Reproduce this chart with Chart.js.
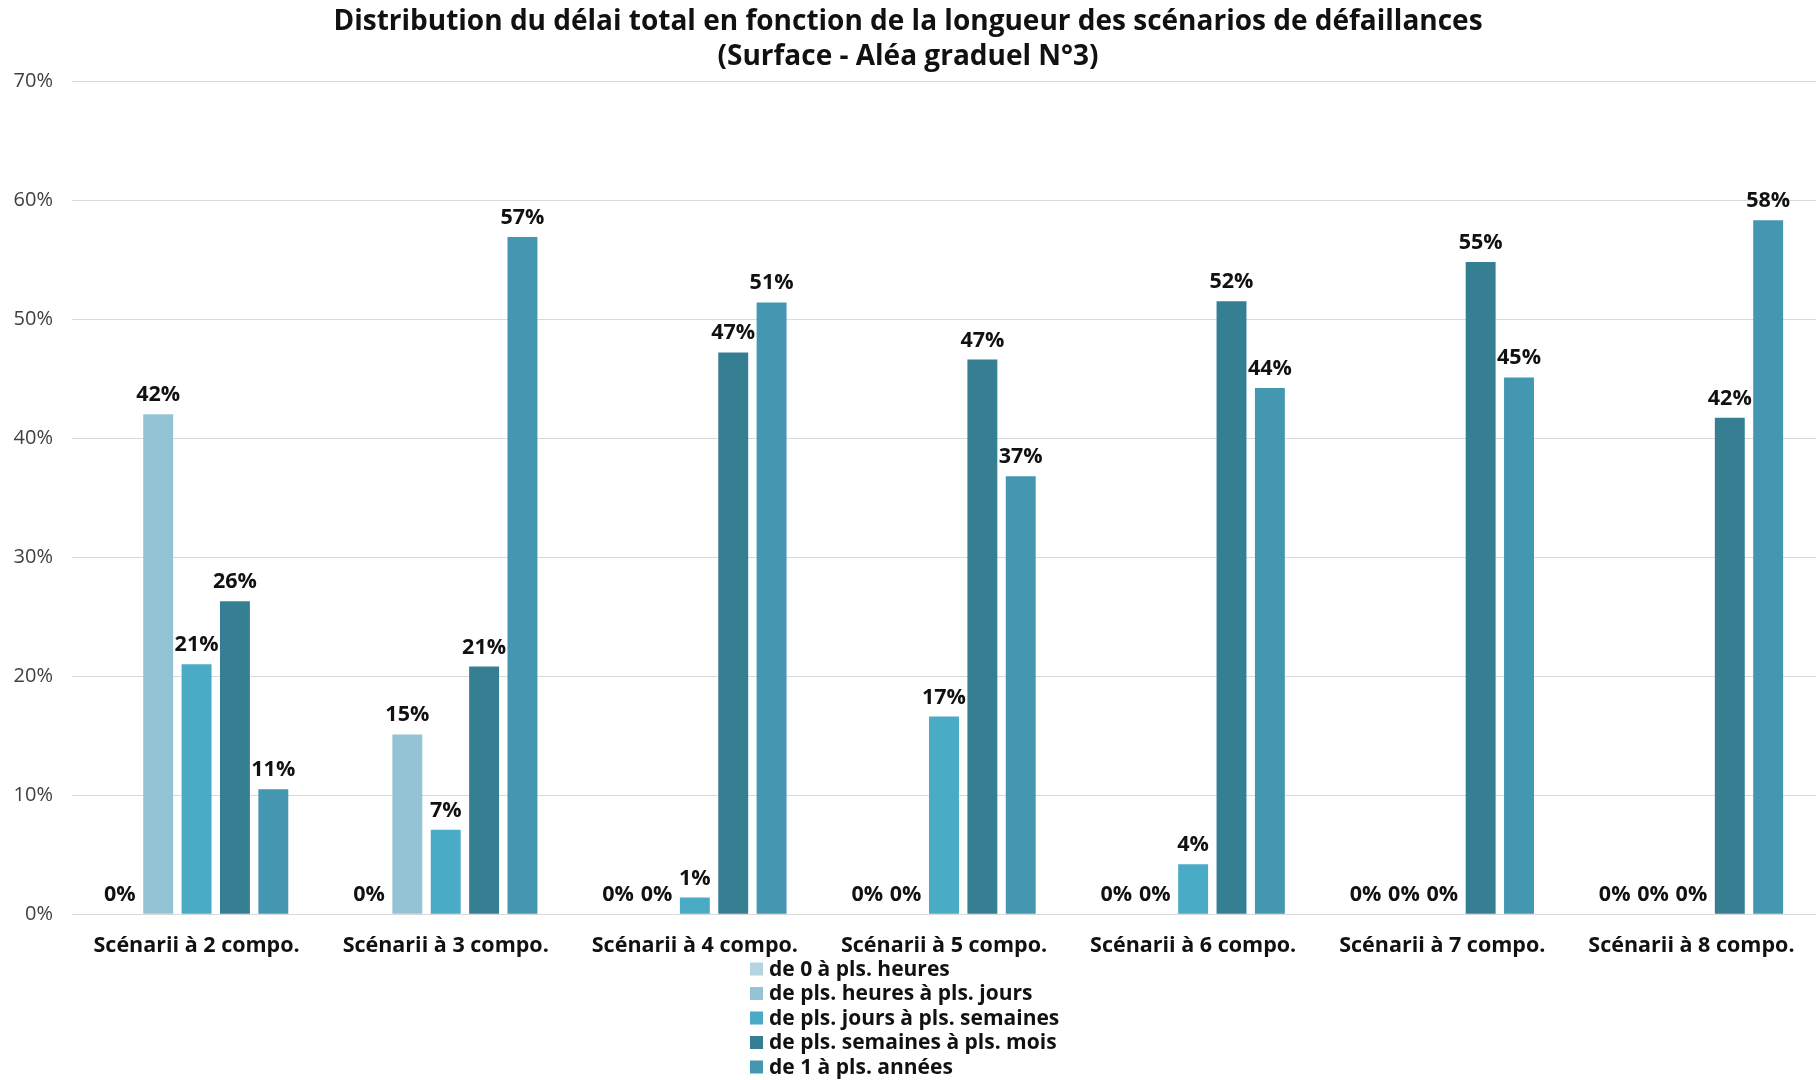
<!DOCTYPE html>
<html>
<head>
<meta charset="utf-8">
<script src="https://cdn.jsdelivr.net/npm/chart.js@4/dist/chart.umd.min.js"></script>
<style>
html,body{margin:0;padding:0;background:#fff;}
#wrap{width:1816px;height:1080px;position:relative;}
</style>
</head>
<body>
<div id="wrap"><canvas id="c"></canvas></div>
<script>
const categories = ["Scénarii à 2 compo.","Scénarii à 3 compo.","Scénarii à 4 compo.","Scénarii à 5 compo.","Scénarii à 6 compo.","Scénarii à 7 compo.","Scénarii à 8 compo."];
const seriesNames = ["de 0 à pls. heures","de pls. heures à pls. jours","de pls. jours à pls. semaines","de pls. semaines à pls. mois","de 1 à pls. années"];
const s0to_heures   = [0, 0, 0, 0, 0, 0, 0];
const sHeuresJours  = [42.0, 15.1, 0, 0, 0, 0, 0];
const sJoursSem     = [21.0, 7.1, 1.4, 16.6, 4.2, 0, 0];
const sSemMois      = [26.3, 20.8, 47.2, 46.6, 51.5, 54.8, 41.7];
const sAnnees       = [10.5, 56.9, 51.4, 36.8, 44.2, 45.1, 58.3];
const yTicks = [0,10,20,30,40,50,60,70];
const titleLines = ["Distribution du délai total en fonction de la longueur des scénarios de défaillances","(Surface - Aléa graduel N°3)"];
const colors = ["#b4d4e1","#93c3d4","#4aabc6","#367f93","#4397b0"];

const FONT = "'Open Sans', Lato, sans-serif";
const seriesData = [s0to_heures, sHeuresJours, sJoursSem, sSemMois, sAnnees];

const dataLabels = {
  id: 'dataLabels',
  afterDatasetsDraw(chart) {
    const ctx = chart.ctx;
    ctx.save();
    ctx.font = "bold 21.5px " + FONT;
    ctx.fillStyle = "#111";
    ctx.textAlign = "center";
    ctx.textBaseline = "alphabetic";
    chart.data.datasets.forEach((ds, i) => {
      const meta = chart.getDatasetMeta(i);
      meta.data.forEach((bar, j) => {
        const v = ds.data[j];
        ctx.fillText(Math.round(v) + "%", bar.x, bar.y - 13);
      });
    });
    ctx.restore();
  }
};

const vertLegend = {
  id: 'vertLegend',
  afterDraw(chart) {
    const ctx = chart.ctx;
    ctx.save();
    ctx.font = "bold 21px " + FONT;
    ctx.textBaseline = "middle";
    ctx.textAlign = "left";
    const x0 = 750, y0 = 969, step = 24.5;
    chart.data.datasets.forEach((ds, i) => {
      const y = y0 + i * step;
      ctx.fillStyle = ds.backgroundColor;
      ctx.fillRect(x0, y - 6.5, 13, 13);
      ctx.fillStyle = "#111";
      ctx.fillText(ds.label, x0 + 19, y + 1);
    });
    ctx.restore();
  }
};

new Chart(document.getElementById('c'), {
  type: 'bar',
  data: {
    labels: categories,
    datasets: seriesNames.map((n, i) => ({
      label: n,
      data: seriesData[i],
      backgroundColor: colors[i],
      borderWidth: 0,
      categoryPercentage: 0.77,
      barPercentage: 0.78
    }))
  },
  options: {
    responsive: true,
    maintainAspectRatio: false,
    animation: false,
    layout: { padding: { left: 0, right: 0, top: 0, bottom: 102 } },
    plugins: {
      legend: { display: false },
      tooltip: { enabled: false },
      title: {
        display: true,
        text: titleLines,
        color: "#111",
        font: { family: FONT, size: 28, weight: 'bold', lineHeight: '35px' },
        padding: { top: 5, bottom: 6 }
      }
    },
    scales: {
      x: {
        grid: { display: false, drawTicks: false },
        border: { display: false },
        ticks: { color: "#111", font: { family: FONT, size: 21.5, weight: 'bold' }, padding: 19, maxRotation: 0, autoSkip: false }
      },
      y: {
        min: 0, max: 70,
        afterBuildTicks(scale) { scale.ticks = yTicks.map(v => ({ value: v })); },
        afterFit(scale) { scale.width = 72; },
        grid: { color: "#d9d9d9", lineWidth: 1, drawTicks: false },
        border: { display: false },
        ticks: { color: "#404040", font: { family: FONT, size: 20 }, padding: 19, callback: v => v + "%" }
      }
    }
  },
  plugins: [dataLabels, vertLegend]
});
</script>
</body>
</html>
